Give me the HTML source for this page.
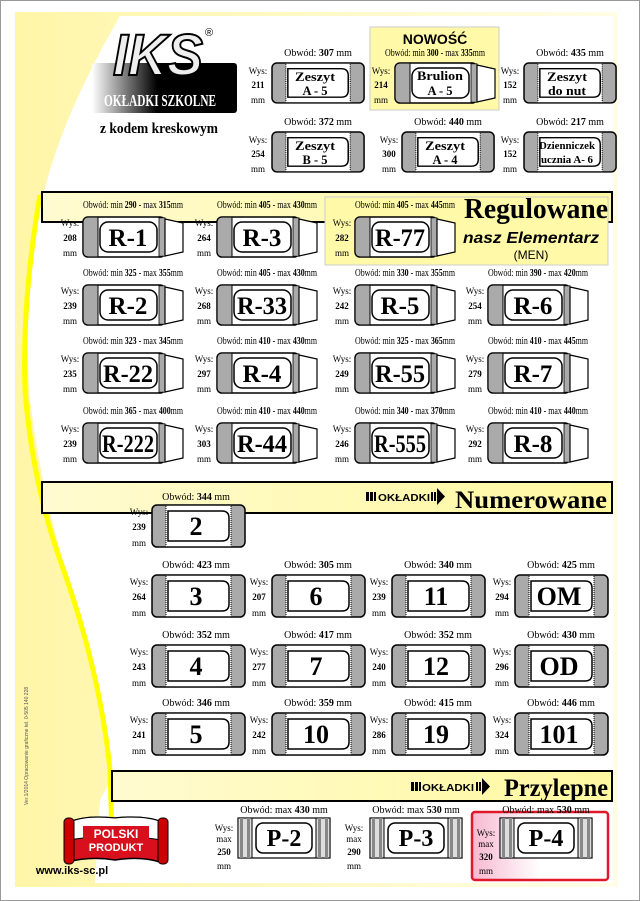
<!DOCTYPE html>
<html><head><meta charset="utf-8"><style>
html,body{margin:0;padding:0;background:#fff}
svg{display:block}
.o{font-family:"Liberation Serif",serif;font-size:10px;text-anchor:middle}
.w{font-family:"Liberation Serif",serif;font-size:9px;text-anchor:middle}
.b{font-family:"Liberation Serif",serif;font-weight:bold;text-anchor:middle}
</style></head><body>
<svg width="640" height="901" viewBox="0 0 640 901" xmlns="http://www.w3.org/2000/svg">
<defs>
<linearGradient id="yl" x1="0" y1="0" x2="1" y2="0"><stop offset="0" stop-color="#fff6a8"/><stop offset="1" stop-color="#fffde6"/></linearGradient>
<linearGradient id="ban" x1="0" y1="0" x2="1" y2="0"><stop offset="0" stop-color="#fffbd0"/><stop offset="1" stop-color="#fff8a0"/></linearGradient>
<linearGradient id="lg" x1="0" y1="0" x2="1" y2="0"><stop offset="0" stop-color="#fff"/><stop offset="0.45" stop-color="#000"/><stop offset="1" stop-color="#000"/></linearGradient>
<linearGradient id="pk" x1="0" y1="0" x2="1" y2="0"><stop offset="0" stop-color="#f7b8d0"/><stop offset="0.5" stop-color="#fff"/><stop offset="1" stop-color="#fff"/></linearGradient>
<g id="rc">
<rect x="0" y="0" width="82" height="40" rx="5" fill="#fff" stroke="#000" stroke-width="1.5"/>
<path d="M5 0.8 H15 V39.2 H5 Q0.8 39.2 0.8 35 V5 Q0.8 0.8 5 0.8Z" fill="#aaa"/>
<line x1="15" y1="0" x2="15" y2="40" stroke="#000"/>
<rect x="76" y="0.8" width="6" height="38.4" fill="#aaa" stroke="#000" stroke-width="0.8"/>
<polygon points="82,2 100,6 100,35 82,39" fill="#fff" stroke="#000" stroke-width="1.2"/>
<rect x="17" y="5" width="57" height="30" rx="8" fill="#fff" stroke="#000" stroke-width="1.5"/>
</g>
<g id="nc">
<rect x="0" y="0" width="93" height="42" rx="5" fill="#aaa" stroke="#000" stroke-width="1.5"/>
<rect x="14" y="0.8" width="65" height="40.4" fill="#fff"/>
<line x1="14" y1="1" x2="14" y2="41" stroke="#000" stroke-dasharray="1,1"/>
<line x1="79" y1="1" x2="79" y2="41" stroke="#000" stroke-dasharray="1,1"/>
<path d="M16 6 H70 Q77 6 77 13 V29 Q77 36 70 36 H16 Z" fill="#fff" stroke="#000" stroke-width="1.5"/>
</g>
<g id="pc">
<rect x="0" y="0" width="92" height="40" fill="#fff" stroke="#000" stroke-width="1.2"/>
<rect x="0" y="0" width="14" height="40" fill="#ddd" stroke="#000" stroke-width="1"/>
<rect x="2" y="0" width="3" height="40" fill="#888"/><rect x="9" y="0" width="3" height="40" fill="#888"/>
<rect x="78" y="0" width="14" height="40" fill="#ddd" stroke="#000" stroke-width="1"/>
<rect x="80" y="0" width="3" height="40" fill="#888"/><rect x="87" y="0" width="3" height="40" fill="#888"/>
<rect x="18" y="5" width="56" height="30" rx="7" fill="#fff" stroke="#000" stroke-width="1.5"/>
</g>
</defs>
<rect x="0" y="0" width="640" height="901" fill="#fff"/>
<rect x="0.5" y="0.5" width="639" height="900" fill="none" stroke="#999"/>
<rect x="15" y="12" width="603" height="875" fill="url(#yl)"/>
<path d="M120 16 H613 V883 H95 L100 800 Q112 780 112 770 Q105 700 75 600 Q42 500 30 400 Q22 300 42 200 Q60 120 120 16Z" fill="#fff"/>
<path d="M40 195 Q22 300 25 390 Q32 480 60 560 Q100 670 110 770 L112 835" fill="none" stroke="#ffff00" stroke-width="5"/>

<!-- logo -->
<rect x="92" y="63" width="145" height="50" rx="3" fill="url(#lg)"/>
<text x="160" y="106" fill="#fff" font-family="Liberation Serif,serif" font-weight="bold" font-size="17" text-anchor="middle" textLength="112" lengthAdjust="spacingAndGlyphs">OKŁADKI SZKOLNE</text>
<text x="158" y="75" font-family="Liberation Sans,sans-serif" font-size="58" font-weight="bold" font-style="italic" text-anchor="middle" fill="#eee" stroke="#000" stroke-width="2" textLength="90" lengthAdjust="spacingAndGlyphs">IKS</text>
<text x="209" y="36" font-family="Liberation Sans,sans-serif" font-size="11" text-anchor="middle">®</text>
<text x="159" y="133" class="b" font-size="15" textLength="118" lengthAdjust="spacingAndGlyphs">z kodem kreskowym</text>

<!-- NOWOSC -->
<rect x="370" y="27" width="129" height="83" fill="#fff9a8" stroke="#ccc"/>
<text x="435" y="44" font-family="Liberation Sans,sans-serif" font-weight="bold" font-size="14" text-anchor="middle">NOWOŚĆ</text>

<g class="o">
<text x="318" y="56">Obwód: <tspan font-weight="bold">307</tspan> mm</text>
<text x="435" y="56" textLength="100" lengthAdjust="spacingAndGlyphs">Obwód: min <tspan font-weight="bold">300</tspan> - max <tspan font-weight="bold">335</tspan>mm</text>
<text x="570" y="56">Obwód: <tspan font-weight="bold">435</tspan> mm</text>
<text x="318" y="125">Obwód: <tspan font-weight="bold">372</tspan> mm</text>
<text x="448" y="125">Obwód: <tspan font-weight="bold">440</tspan> mm</text>
<text x="570" y="125">Obwód: <tspan font-weight="bold">217</tspan> mm</text>
</g>
<use href="#nc" transform="translate(272,63) scale(0.99,0.95)"/>
<use href="#rc" x="395" y="63"/>
<use href="#nc" transform="translate(524,63) scale(0.99,0.95)"/>
<use href="#nc" transform="translate(272,132) scale(0.99,0.95)"/>
<use href="#nc" transform="translate(402,132) scale(0.99,0.95)"/>
<use href="#nc" transform="translate(524,132) scale(0.99,0.95)"/>
<g class="b" font-size="12.5">
<text x="315" y="81" textLength="40" lengthAdjust="spacingAndGlyphs">Zeszyt</text><text x="315" y="95">A - 5</text>
<text x="440" y="80" textLength="46" lengthAdjust="spacingAndGlyphs">Brulion</text><text x="440" y="95">A - 5</text>
<text x="567" y="81" textLength="40" lengthAdjust="spacingAndGlyphs">Zeszyt</text><text x="567" y="95" textLength="38" lengthAdjust="spacingAndGlyphs">do nut</text>
<text x="315" y="150" textLength="40" lengthAdjust="spacingAndGlyphs">Zeszyt</text><text x="315" y="164">B - 5</text>
<text x="445" y="150" textLength="40" lengthAdjust="spacingAndGlyphs">Zeszyt</text><text x="445" y="164">A - 4</text>
<text x="567" y="149" font-size="10" textLength="56" lengthAdjust="spacingAndGlyphs">Dzienniczek</text><text x="567" y="163" font-size="10" textLength="52" lengthAdjust="spacingAndGlyphs">ucznia A- 6</text>
</g>
<g class="w">
<text x="258" y="74">Wys:</text><text x="258" y="88" font-weight="bold">211</text><text x="258" y="103">mm</text>
<text x="381" y="74">Wys:</text><text x="381" y="88" font-weight="bold">214</text><text x="381" y="103">mm</text>
<text x="510" y="74">Wys:</text><text x="510" y="88" font-weight="bold">152</text><text x="510" y="103">mm</text>
<text x="258" y="143">Wys:</text><text x="258" y="157" font-weight="bold">254</text><text x="258" y="172">mm</text>
<text x="389" y="143">Wys:</text><text x="389" y="157" font-weight="bold">300</text><text x="389" y="172">mm</text>
<text x="510" y="143">Wys:</text><text x="510" y="157" font-weight="bold">152</text><text x="510" y="172">mm</text>
</g>

<rect x="42" y="192" width="570" height="30" fill="url(#ban)" stroke="#000" stroke-width="2"/>
<rect x="325" y="197" width="283" height="68" fill="#fff9a8" stroke="#ccc"/>
<text x="536" y="218" class="b" font-size="28" textLength="144" lengthAdjust="spacingAndGlyphs">Regulowane</text>
<text x="531" y="243" font-family="Liberation Sans,sans-serif" font-weight="bold" font-style="italic" font-size="16" text-anchor="middle" textLength="136" lengthAdjust="spacingAndGlyphs">nasz Elementarz</text>
<text x="531" y="259" font-family="Liberation Sans,sans-serif" font-size="12" text-anchor="middle">(MEN)</text>

<use href="#rc" x="83" y="217"/><use href="#rc" x="217" y="217"/><use href="#rc" x="355" y="217"/>
<use href="#rc" x="83" y="285"/><use href="#rc" x="217" y="285"/><use href="#rc" x="355" y="285"/><use href="#rc" x="488" y="285"/>
<use href="#rc" x="83" y="353"/><use href="#rc" x="217" y="353"/><use href="#rc" x="355" y="353"/><use href="#rc" x="488" y="353"/>
<use href="#rc" x="83" y="423"/><use href="#rc" x="217" y="423"/><use href="#rc" x="355" y="423"/><use href="#rc" x="488" y="423"/>
<g class="b" font-size="25">
<text x="128" y="246">R-1</text><text x="262" y="246">R-3</text><text x="400" y="246" textLength="50" lengthAdjust="spacingAndGlyphs">R-77</text>
<text x="128" y="314">R-2</text><text x="262" y="314" textLength="50" lengthAdjust="spacingAndGlyphs">R-33</text><text x="400" y="314">R-5</text><text x="533" y="314">R-6</text>
<text x="128" y="382" textLength="50" lengthAdjust="spacingAndGlyphs">R-22</text><text x="262" y="382">R-4</text><text x="400" y="382" textLength="50" lengthAdjust="spacingAndGlyphs">R-55</text><text x="533" y="382">R-7</text>
<text x="128" y="452" textLength="52" lengthAdjust="spacingAndGlyphs">R-222</text><text x="262" y="452" textLength="50" lengthAdjust="spacingAndGlyphs">R-44</text><text x="400" y="452" textLength="52" lengthAdjust="spacingAndGlyphs">R-555</text><text x="533" y="452">R-8</text>
</g>
<g class="o">
<text x="133" y="208" textLength="100" lengthAdjust="spacingAndGlyphs">Obwód: min <tspan font-weight="bold">290</tspan> - max <tspan font-weight="bold">315</tspan>mm</text>
<text x="267" y="208" textLength="100" lengthAdjust="spacingAndGlyphs">Obwód: min <tspan font-weight="bold">405</tspan> - max <tspan font-weight="bold">430</tspan>mm</text>
<text x="405" y="208" textLength="100" lengthAdjust="spacingAndGlyphs">Obwód: min <tspan font-weight="bold">405</tspan> - max <tspan font-weight="bold">445</tspan>mm</text>
<text x="133" y="276" textLength="100" lengthAdjust="spacingAndGlyphs">Obwód: min <tspan font-weight="bold">325</tspan> - max <tspan font-weight="bold">355</tspan>mm</text>
<text x="267" y="276" textLength="100" lengthAdjust="spacingAndGlyphs">Obwód: min <tspan font-weight="bold">405</tspan> - max <tspan font-weight="bold">430</tspan>mm</text>
<text x="405" y="276" textLength="100" lengthAdjust="spacingAndGlyphs">Obwód: min <tspan font-weight="bold">330</tspan> - max <tspan font-weight="bold">355</tspan>mm</text>
<text x="538" y="276" textLength="100" lengthAdjust="spacingAndGlyphs">Obwód: min <tspan font-weight="bold">390</tspan> - max <tspan font-weight="bold">420</tspan>mm</text>
<text x="133" y="344" textLength="100" lengthAdjust="spacingAndGlyphs">Obwód: min <tspan font-weight="bold">323</tspan> - max <tspan font-weight="bold">345</tspan>mm</text>
<text x="267" y="344" textLength="100" lengthAdjust="spacingAndGlyphs">Obwód: min <tspan font-weight="bold">410</tspan> - max <tspan font-weight="bold">430</tspan>mm</text>
<text x="405" y="344" textLength="100" lengthAdjust="spacingAndGlyphs">Obwód: min <tspan font-weight="bold">325</tspan> - max <tspan font-weight="bold">365</tspan>mm</text>
<text x="538" y="344" textLength="100" lengthAdjust="spacingAndGlyphs">Obwód: min <tspan font-weight="bold">410</tspan> - max <tspan font-weight="bold">445</tspan>mm</text>
<text x="133" y="414" textLength="100" lengthAdjust="spacingAndGlyphs">Obwód: min <tspan font-weight="bold">365</tspan> - max <tspan font-weight="bold">400</tspan>mm</text>
<text x="267" y="414" textLength="100" lengthAdjust="spacingAndGlyphs">Obwód: min <tspan font-weight="bold">410</tspan> - max <tspan font-weight="bold">440</tspan>mm</text>
<text x="405" y="414" textLength="100" lengthAdjust="spacingAndGlyphs">Obwód: min <tspan font-weight="bold">340</tspan> - max <tspan font-weight="bold">370</tspan>mm</text>
<text x="538" y="414" textLength="100" lengthAdjust="spacingAndGlyphs">Obwód: min <tspan font-weight="bold">410</tspan> - max <tspan font-weight="bold">440</tspan>mm</text>
</g>
<g class="w">
<text x="70" y="226">Wys:</text><text x="70" y="241" font-weight="bold">208</text><text x="70" y="256">mm</text>
<text x="204" y="226">Wys:</text><text x="204" y="241" font-weight="bold">264</text><text x="204" y="256">mm</text>
<text x="342" y="226">Wys:</text><text x="342" y="241" font-weight="bold">282</text><text x="342" y="256">mm</text>
<text x="70" y="294">Wys:</text><text x="70" y="309" font-weight="bold">239</text><text x="70" y="324">mm</text>
<text x="204" y="294">Wys:</text><text x="204" y="309" font-weight="bold">268</text><text x="204" y="324">mm</text>
<text x="342" y="294">Wys:</text><text x="342" y="309" font-weight="bold">242</text><text x="342" y="324">mm</text>
<text x="475" y="294">Wys:</text><text x="475" y="309" font-weight="bold">254</text><text x="475" y="324">mm</text>
<text x="70" y="362">Wys:</text><text x="70" y="377" font-weight="bold">235</text><text x="70" y="392">mm</text>
<text x="204" y="362">Wys:</text><text x="204" y="377" font-weight="bold">297</text><text x="204" y="392">mm</text>
<text x="342" y="362">Wys:</text><text x="342" y="377" font-weight="bold">249</text><text x="342" y="392">mm</text>
<text x="475" y="362">Wys:</text><text x="475" y="377" font-weight="bold">279</text><text x="475" y="392">mm</text>
<text x="70" y="432">Wys:</text><text x="70" y="447" font-weight="bold">239</text><text x="70" y="462">mm</text>
<text x="204" y="432">Wys:</text><text x="204" y="447" font-weight="bold">303</text><text x="204" y="462">mm</text>
<text x="342" y="432">Wys:</text><text x="342" y="447" font-weight="bold">246</text><text x="342" y="462">mm</text>
<text x="475" y="432">Wys:</text><text x="475" y="447" font-weight="bold">292</text><text x="475" y="462">mm</text>
</g>

<rect x="42" y="482" width="570" height="31" fill="url(#ban)" stroke="#000" stroke-width="2"/>
<g>
<rect x="366" y="492" width="3" height="9"/><rect x="370" y="492" width="3" height="9"/><rect x="374" y="492" width="2" height="9"/>
<text x="404" y="501" font-family="Liberation Sans,sans-serif" font-weight="bold" font-size="10" text-anchor="middle" textLength="52" lengthAdjust="spacingAndGlyphs">OKŁADKI</text>
<rect x="431" y="492" width="2" height="9"/><rect x="434" y="492" width="2" height="9"/><polygon points="437,488 445,496.5 437,505"/>
</g>
<text x="531" y="508" class="b" font-size="25" textLength="152" lengthAdjust="spacingAndGlyphs">Numerowane</text>

<use href="#nc" x="152" y="505"/>
<use href="#nc" x="152" y="575"/><use href="#nc" x="272" y="575"/><use href="#nc" x="392" y="575"/><use href="#nc" x="515" y="575"/>
<use href="#nc" x="152" y="645"/><use href="#nc" x="272" y="645"/><use href="#nc" x="392" y="645"/><use href="#nc" x="515" y="645"/>
<use href="#nc" x="152" y="713"/><use href="#nc" x="272" y="713"/><use href="#nc" x="392" y="713"/><use href="#nc" x="515" y="713"/>
<g class="b" font-size="26">
<text x="196" y="535">2</text>
<text x="196" y="605">3</text><text x="316" y="605">6</text><text x="436" y="605">11</text><text x="559" y="605">OM</text>
<text x="196" y="675">4</text><text x="316" y="675">7</text><text x="436" y="675">12</text><text x="559" y="675">OD</text>
<text x="196" y="743">5</text><text x="316" y="743">10</text><text x="436" y="743">19</text><text x="559" y="743">101</text>
</g>
<g class="o">
<text x="196" y="500">Obwód: <tspan font-weight="bold">344</tspan> mm</text>
<text x="196" y="568">Obwód: <tspan font-weight="bold">423</tspan> mm</text><text x="318" y="568">Obwód: <tspan font-weight="bold">305</tspan> mm</text><text x="438" y="568">Obwód: <tspan font-weight="bold">340</tspan> mm</text><text x="561" y="568">Obwód: <tspan font-weight="bold">425</tspan> mm</text>
<text x="196" y="638">Obwód: <tspan font-weight="bold">352</tspan> mm</text><text x="318" y="638">Obwód: <tspan font-weight="bold">417</tspan> mm</text><text x="438" y="638">Obwód: <tspan font-weight="bold">352</tspan> mm</text><text x="561" y="638">Obwód: <tspan font-weight="bold">430</tspan> mm</text>
<text x="196" y="706">Obwód: <tspan font-weight="bold">346</tspan> mm</text><text x="318" y="706">Obwód: <tspan font-weight="bold">359</tspan> mm</text><text x="438" y="706">Obwód: <tspan font-weight="bold">415</tspan> mm</text><text x="561" y="706">Obwód: <tspan font-weight="bold">446</tspan> mm</text>
</g>
<g class="w">
<text x="139" y="515">Wys:</text><text x="139" y="530" font-weight="bold">239</text><text x="139" y="546">mm</text>
<text x="139" y="585">Wys:</text><text x="139" y="600" font-weight="bold">264</text><text x="139" y="616">mm</text>
<text x="259" y="585">Wys:</text><text x="259" y="600" font-weight="bold">207</text><text x="259" y="616">mm</text>
<text x="379" y="585">Wys:</text><text x="379" y="600" font-weight="bold">239</text><text x="379" y="616">mm</text>
<text x="502" y="585">Wys:</text><text x="502" y="600" font-weight="bold">294</text><text x="502" y="616">mm</text>
<text x="139" y="655">Wys:</text><text x="139" y="670" font-weight="bold">243</text><text x="139" y="686">mm</text>
<text x="259" y="655">Wys:</text><text x="259" y="670" font-weight="bold">277</text><text x="259" y="686">mm</text>
<text x="379" y="655">Wys:</text><text x="379" y="670" font-weight="bold">240</text><text x="379" y="686">mm</text>
<text x="502" y="655">Wys:</text><text x="502" y="670" font-weight="bold">296</text><text x="502" y="686">mm</text>
<text x="139" y="723">Wys:</text><text x="139" y="738" font-weight="bold">241</text><text x="139" y="754">mm</text>
<text x="259" y="723">Wys:</text><text x="259" y="738" font-weight="bold">242</text><text x="259" y="754">mm</text>
<text x="379" y="723">Wys:</text><text x="379" y="738" font-weight="bold">286</text><text x="379" y="754">mm</text>
<text x="502" y="723">Wys:</text><text x="502" y="738" font-weight="bold">324</text><text x="502" y="754">mm</text>
</g>

<rect x="112" y="771" width="500" height="30" fill="url(#ban)" stroke="#000" stroke-width="2"/>
<g>
<rect x="411" y="782" width="3" height="9"/><rect x="415" y="782" width="3" height="9"/><rect x="419" y="782" width="2" height="9"/>
<text x="448" y="791" font-family="Liberation Sans,sans-serif" font-weight="bold" font-size="10" text-anchor="middle" textLength="52" lengthAdjust="spacingAndGlyphs">OKŁADKI</text>
<rect x="476" y="782" width="2" height="9"/><rect x="479" y="782" width="2" height="9"/><polygon points="482,778 490,786.5 482,795"/>
</g>
<text x="556" y="796" class="b" font-size="25" textLength="104" lengthAdjust="spacingAndGlyphs">Przylepne</text>

<rect x="472" y="812" width="136" height="68" rx="3" fill="url(#pk)" stroke="#e0182a" stroke-width="2.5"/>
<use href="#pc" x="238" y="818"/><use href="#pc" x="370" y="818"/><use href="#pc" x="500" y="818"/>
<g class="b" font-size="24">
<text x="284" y="846">P-2</text><text x="416" y="846">P-3</text><text x="546" y="846">P-4</text>
</g>
<g class="o" font-size="9">
<text x="284" y="813">Obwód: max <tspan font-weight="bold">430</tspan> mm</text>
<text x="416" y="813">Obwód: max <tspan font-weight="bold">530</tspan> mm</text>
<text x="546" y="813">Obwód: max <tspan font-weight="bold">530</tspan> mm</text>
</g>
<g class="w">
<text x="224" y="831">Wys:</text><text x="224" y="842">max</text><text x="224" y="855" font-weight="bold">250</text><text x="224" y="869">mm</text>
<text x="354" y="831">Wys:</text><text x="354" y="842">max</text><text x="354" y="855" font-weight="bold">290</text><text x="354" y="869">mm</text>
<text x="486" y="836">Wys:</text><text x="486" y="847">max</text><text x="486" y="860" font-weight="bold">320</text><text x="486" y="874">mm</text>
</g>

<path d="M70 822 Q85 815 115 818 Q145 815 162 822 L160 862 Q140 856 115 860 Q90 856 68 862Z" fill="#d8101e" stroke="#000" stroke-width="1.5"/>
<path d="M70 822 Q85 815 115 818 Q145 815 162 822 L161 840 Q140 836 115 838 Q90 836 69 840Z" fill="#fff" stroke="#000" stroke-width="1"/>
<rect x="64" y="818" width="10" height="46" rx="4" fill="#c00" stroke="#000"/>
<rect x="158" y="818" width="10" height="46" rx="4" fill="#c00" stroke="#000"/>
<rect x="83" y="826" width="66" height="28" fill="#d8101e"/>
<text x="116" y="838" font-family="Liberation Sans,sans-serif" font-weight="bold" font-size="12" fill="#fff" text-anchor="middle">POLSKI</text>
<text x="116" y="851" font-family="Liberation Sans,sans-serif" font-weight="bold" font-size="11" fill="#fff" text-anchor="middle">PRODUKT</text>
<text x="72" y="874" font-family="Liberation Sans,sans-serif" font-weight="bold" font-size="11" text-anchor="middle">www.iks-sc.pl</text>
<text transform="translate(28,805) rotate(-90)" font-family="Liberation Sans,sans-serif" font-size="5" fill="#555">Ver.1/2014 Opracowanie graficzne  tel. 0-505 140 228</text>
</svg>
</body></html>
